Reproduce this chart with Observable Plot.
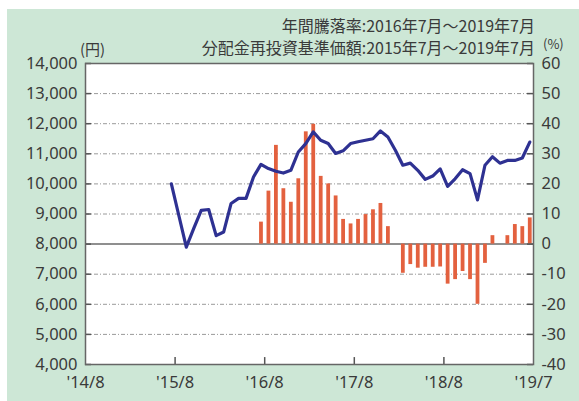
<!DOCTYPE html>
<html><head><meta charset="utf-8">
<script src="https://cdn.jsdelivr.net/npm/d3@7"></script>
<script src="https://cdn.jsdelivr.net/npm/@observablehq/plot@0.6"></script>
<style>
html,body{margin:0;padding:0;background:#fff;}
#wrap{position:relative;width:579px;height:401px;overflow:hidden;}
#bg{position:absolute;left:7px;top:9px;right:0;bottom:0;background:#cde7d6;}
#chart{position:absolute;left:0;top:0;}
</style></head><body>
<div id="wrap"><div id="bg"></div><div id="chart"></div></div>
<script>
// Titles
const title1 = "年間騰落率:2016年7月～2019年7月";
const title2 = "分配金再投資基準価額:2015年7月～2019年7月";
const unitLeft = "(円)";
const unitRight = "(%)";

// x axis: month index, 0 = 2014/8
const xTickPos = [0, 12, 24, 36, 48, 60];
const xTickLabels = ["'14/8", "'15/8", "'16/8", "'17/8", "'18/8", "'19/7"];

// left axis ticks (円)
const yTicks = [4000, 5000, 6000, 7000, 8000, 9000, 10000, 11000, 12000, 13000, 14000];

// 分配金再投資基準価額 (円), monthly 2015/7 .. 2019/7
const navStart = 11; // 2015/7
const navValues = [10000, 8950, 7900, 8520, 9120, 9150, 8280, 8400, 9350, 9520, 9520, 10230,
  10650, 10510, 10420, 10360, 10450, 11060, 11340, 11730, 11450, 11340, 11010, 11100,
  11340, 11400, 11450, 11500, 11760, 11560, 11120, 10620, 10690, 10450, 10150, 10260,
  10500, 9920, 10170, 10470, 10340, 9470, 10620, 10900, 10690, 10780, 10780, 10860, 11390];

// 年間騰落率 (%), monthly 2016/7 .. 2019/7
const retStart = 23; // 2016/7
const retValues = [7.3, 17.6, 32.8, 18.4, 13.9, 21.7, 37.3, 39.8, 22.5, 20.0, 16.0, 8.2,
  6.7, 8.2, 9.8, 11.4, 13.5, 5.8, 0.0, -9.7, -6.8, -8.0, -7.7, -7.7, -7.6, -13.3,
  -11.8, -9.1, -11.8, -20.0, -6.4, 2.8, 0.0, 2.8, 6.5, 5.8, 8.7];

// right axis: 10% = 1,000円, 0% = 8,000円
const pctToYen = p => 8000 + p * 100;
const yenToPct = y => (y - 8000) / 100;

const nav = navValues.map((v, i) => ({m: navStart + i + 0.5, v}));
const ret = retValues.map((v, i) => ({m: retStart + i + 0.5, v}));
const gridYen = yTicks.filter(d => d !== 8000 && d !== 4000 && d !== 14000);

const chart = Plot.plot({
  width: 579, height: 401,
  marginLeft: 85, marginRight: 46, marginTop: 63, marginBottom: 37,
  style: {background: "transparent", fontFamily: "'Noto Sans', sans-serif", fontSize: "16.5px", color: "#3a3a3a"},
  x: {domain: [0, 60]},
  y: {domain: [4000, 14000]},
  marks: [
    Plot.frame({fill: "white", stroke: null}),
    Plot.ruleY(gridYen, {stroke: "#9a9a9a", strokeWidth: 1, strokeDasharray: "4,2,1,2"}),
    Plot.ruleY([8000], {stroke: "#6a6a6a", strokeWidth: 1.5}),
    Plot.ruleX(ret, {x: "m", y1: 8000, y2: d => pctToYen(d.v), stroke: "#e3613f", strokeWidth: 3.8}),
    Plot.line(nav, {x: "m", y: "v", stroke: "#2e3192", strokeWidth: 3.2, strokeLinejoin: "round", strokeLinecap: "round"}),
    // inner tick marks
    Plot.ruleY(yTicks, {x1: 0, x2: 0.8, stroke: "#555", strokeWidth: 1.5}),
    Plot.ruleY(yTicks, {x1: 59.2, x2: 60, stroke: "#555", strokeWidth: 1.5}),
    Plot.ruleX(xTickPos.slice(1, -1), {y1: 4000, y2: 4230, stroke: "#555", strokeWidth: 1.5}),
    Plot.frame({stroke: "#666", strokeWidth: 1.5}),
    Plot.axisY({anchor: "left", ticks: yTicks, tickFormat: d3.format(","), tickSize: 0, tickPadding: 8, label: null}),
    Plot.axisY({anchor: "right", ticks: yTicks, tickFormat: d => String(yenToPct(d)), tickSize: 0, tickPadding: 8, label: null}),
    Plot.axisX({anchor: "bottom", ticks: xTickPos, tickFormat: d => xTickLabels[xTickPos.indexOf(d)], tickSize: 0, tickPadding: 12, label: null})
  ]
});
document.getElementById("chart").appendChild(chart);

const svg = d3.select(chart);
const tf = "'Noto Sans CJK JP', 'Noto Sans', sans-serif";
svg.append("text").attr("x", 535).attr("y", 32).attr("text-anchor", "end")
  .attr("font-family", tf).attr("font-size", 16).attr("fill", "#3a3a3a").text(title1);
svg.append("text").attr("x", 535).attr("y", 54).attr("text-anchor", "end")
  .attr("font-family", tf).attr("font-size", 16).attr("fill", "#3a3a3a").text(title2);
svg.append("text").attr("x", 80).attr("y", 55).attr("text-anchor", "start")
  .attr("font-family", tf).attr("font-size", 15).attr("fill", "#3a3a3a").text(unitLeft);
svg.append("text").attr("x", 543).attr("y", 49).attr("text-anchor", "start")
  .attr("font-family", tf).attr("font-size", 13).attr("fill", "#3a3a3a").text(unitRight);
</script>
</body></html>
